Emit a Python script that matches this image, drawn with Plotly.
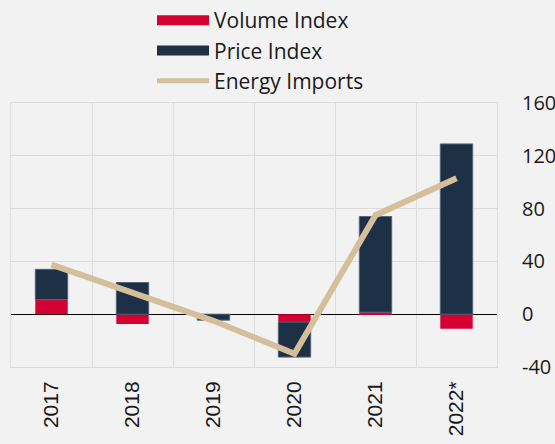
import plotly.graph_objects as go

# Annual contributions (percentage points) and energy import growth (%)
years = ["2017", "2018", "2019", "2020", "2021", "2022*"]
volume_index = [11, -7.5, 0, -6, 1.5, -11]
price_index = [23, 24, -4.5, -26.5, 72.5, 129]
energy_imports = [37.5, 16.5, -5, -30, 75, 103]

y_ticks = [-40, 0, 40, 80, 120, 160]
y_tick_labels = ["-40", "0", "40", "80", "120", "160"]

RED = "#d50032"
NAVY = "#1d3045"
TAN = "#d5bf9b"
BG = "#f2f2f2"
GRID = "#dcdcdc"
FONT = dict(family="Open Sans", size=20, color="#1a1a1a")
LFONT = dict(family="Open Sans", size=21, color="#1a1a1a")
XFONT = dict(family="Liberation Sans", size=21, color="#1a1a1a")

W, H = 555, 444

fig = go.Figure()

fig.add_trace(go.Bar(
    x=years, y=volume_index, name="Volume Index",
    marker=dict(color=RED, line=dict(width=0)),
    showlegend=False, legendgroup="vol",
))
fig.add_trace(go.Bar(
    x=years, y=price_index, name="Price Index",
    marker=dict(color=NAVY, line=dict(width=1, color="#55667a")),
    showlegend=False, legendgroup="price",
))
fig.add_trace(go.Scatter(
    x=years, y=energy_imports, name="Energy Imports",
    mode="lines", line=dict(color=TAN, width=6),
    showlegend=False, legendgroup="energy",
))

# Legend entries drawn as wide swatches
fig.add_trace(go.Scatter(x=[None], y=[None], mode="lines", name="Volume Index",
                         line=dict(color=RED, width=13), legendgroup="vol"))
fig.add_trace(go.Scatter(x=[None], y=[None], mode="lines", name="Price Index",
                         line=dict(color=NAVY, width=13), legendgroup="price"))
fig.add_trace(go.Scatter(x=[None], y=[None], mode="lines", name="Energy Imports",
                         line=dict(color=TAN, width=5), legendgroup="energy"))

fig.update_layout(
    width=W, height=H,
    margin=dict(l=11, r=58, t=103, b=77, autoexpand=False),
    paper_bgcolor=BG, plot_bgcolor=BG,
    font=FONT,
    barmode="relative", bargap=0.6,
    legend=dict(
        orientation="v", traceorder="normal",
        x=152 / W, xref="container", xanchor="left",
        y=1 + 4 / H, yref="container", yanchor="top",
        itemwidth=52, bgcolor="rgba(0,0,0,0)",
        font=LFONT, tracegroupgap=0,
    ),
    xaxis=dict(
        type="category", tickangle=-90, tickson="boundaries",
        showgrid=True, gridcolor=GRID, gridwidth=1,
        ticks="", ticklabelstandoff=5, tickfont=XFONT,
        range=[-0.5, 5.5], zeroline=False,
        showline=True, mirror=True, linecolor=GRID, linewidth=1,
    ),
    yaxis=dict(
        side="right", range=[-40, 160],
        tickvals=y_ticks, ticktext=y_tick_labels,
        showgrid=True, gridcolor=GRID, gridwidth=1,
        zeroline=True, zerolinecolor="#000000", zerolinewidth=1.2,
        ticks="", ticklabelstandoff=20,
        showline=True, mirror=True, linecolor=GRID, linewidth=1,
    ),
)

fig.write_html("out.html")
